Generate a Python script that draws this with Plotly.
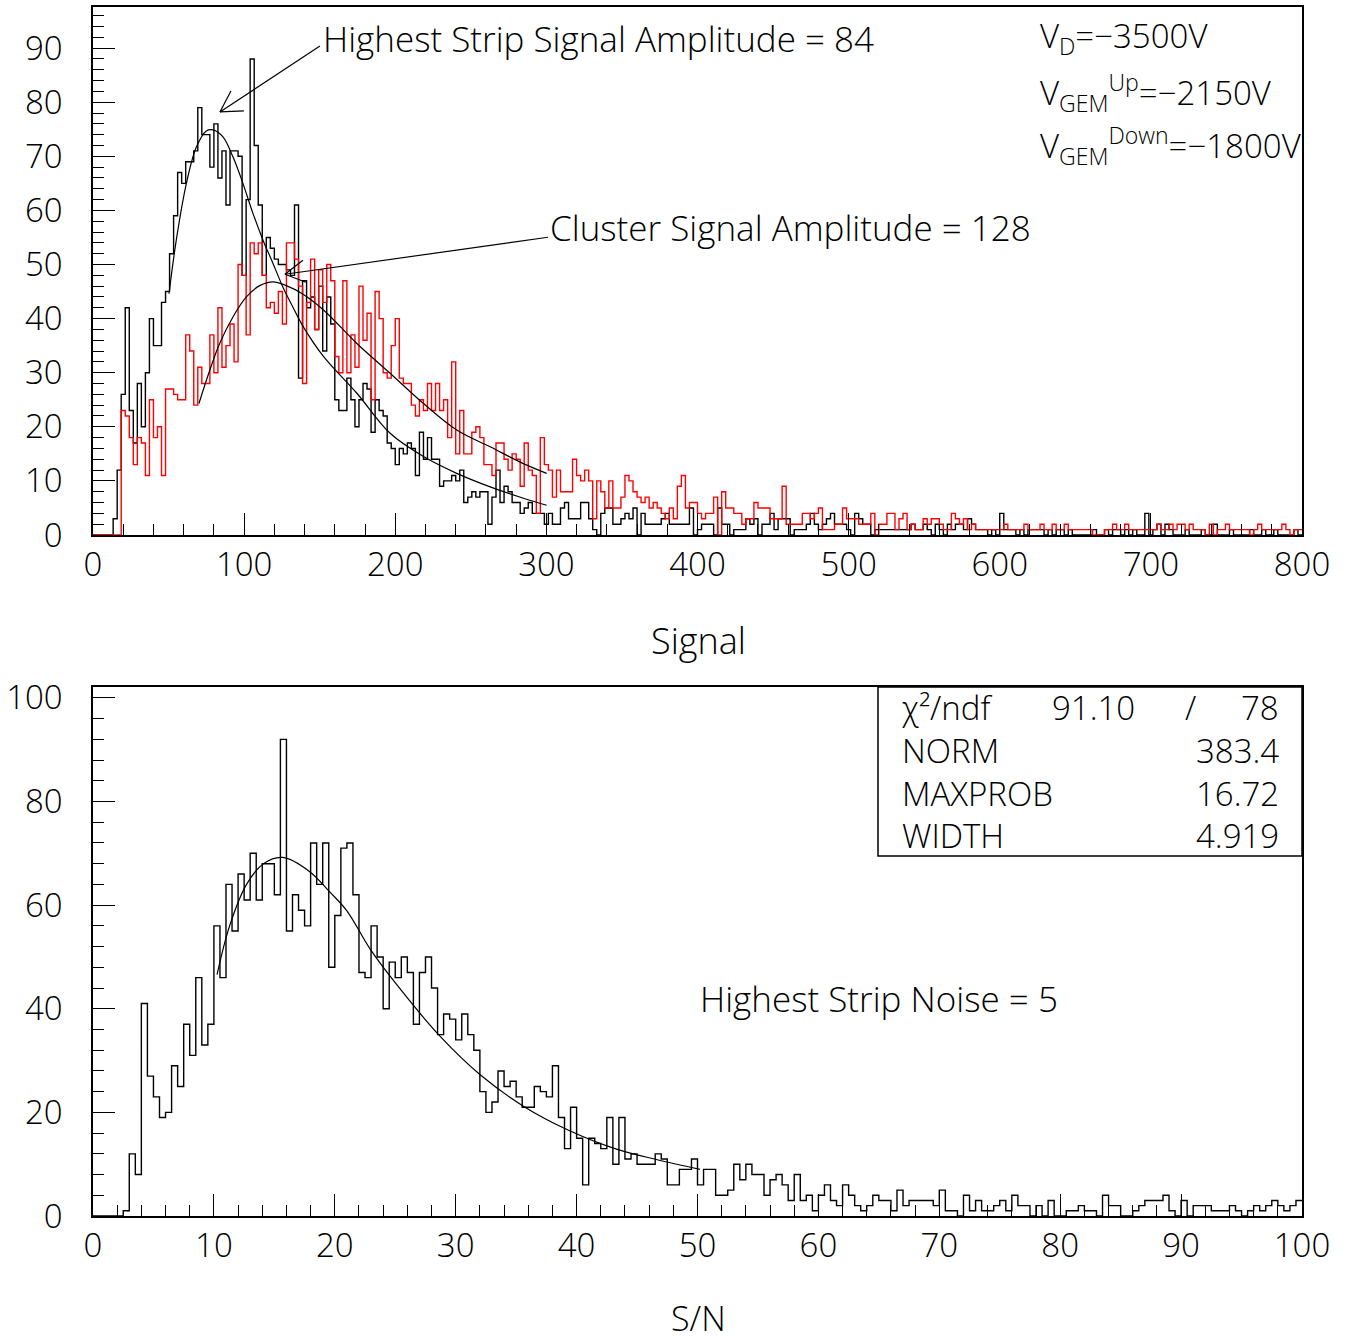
import numpy as np
import plotly.graph_objects as go

W, H = 1345, 1343
FONT = "Open Sans, DejaVu Sans, sans-serif"
WEIGHT = 300

# ---------------- data ----------------
signal_bin_width = 8.0 / 3.0   # 300 bins on 0..800
sn_bin_width = 0.5             # 200 bins on 0..100

highest_strip = [
    0, 0, 0, 0, 0, 3, 12, 26, 42, 23,
    17, 28, 20, 30, 40, 35, 35, 43, 45, 52,
    59, 67, 65, 69, 69, 71, 79, 74, 74, 68,
    76, 66, 71, 61, 71, 71, 70, 48, 62, 88,
    72, 61, 48, 55, 53, 51, 50, 50, 49, 48,
    61, 29, 47, 42, 44, 38, 46, 34, 44, 39,
    25, 23, 23, 29, 25, 20, 25, 28, 27, 19,
    25, 23, 22, 17, 16, 13, 16, 15, 17, 16,
    11, 19, 14, 18, 14, 14, 9, 10, 10, 11,
    10, 12, 6, 7, 8, 7, 8, 8, 2, 7,
    12, 6, 9, 8, 6, 6, 4, 5, 6, 4,
    4, 4, 2, 4, 2, 2, 5, 6, 3, 3,
    3, 6, 6, 3, 1, 0, 4, 5, 5, 2,
    2, 3, 4, 3, 5, 0, 4, 2, 2, 2,
    2, 3, 4, 2, 2, 2, 2, 2, 5, 0,
    1, 2, 2, 2, 0, 5, 2, 2, 0, 1,
    1, 1, 3, 2, 3, 0, 2, 2, 4, 1,
    3, 3, 3, 0, 1, 1, 1, 2, 4, 2,
    1, 2, 3, 4, 2, 2, 2, 1, 0, 4,
    3, 2, 2, 0, 1, 1, 1, 1, 1, 1,
    1, 1, 1, 2, 1, 1, 2, 1, 0, 2,
    1, 0, 2, 1, 2, 2, 1, 3, 2, 1,
    1, 1, 0, 1, 0, 4, 1, 1, 1, 0,
    1, 0, 1, 1, 1, 1, 0, 1, 0, 1,
    1, 0, 1, 0, 0, 0, 0, 0, 1, 0,
    0, 1, 0, 1, 1, 0, 1, 0, 1, 0,
    0, 4, 0, 1, 2, 0, 2, 1, 0, 0,
    0, 1, 0, 0, 0, 1, 0, 0, 2, 0,
    0, 0, 1, 0, 0, 0, 0, 1, 0, 0,
    1, 0, 0, 1, 0, 0, 0, 0, 1, 0,
]

cluster = [
    0, 0, 0, 0, 0, 0, 0, 23, 22, 18,
    13, 18, 17, 11, 25, 18, 20, 11, 27, 27,
    26, 25, 25, 37, 34, 24, 31, 28, 28, 37,
    30, 42, 31, 35, 39, 32, 50, 48, 37, 54,
    52, 54, 48, 42, 43, 41, 45, 39, 54, 54,
    51, 46, 28, 43, 51, 38, 49, 43, 50, 47,
    33, 30, 47, 30, 37, 31, 46, 36, 41, 25,
    45, 40, 30, 29, 35, 40, 29, 28, 28, 24,
    22, 25, 23, 28, 23, 28, 23, 25, 18, 32,
    15, 23, 15, 15, 19, 20, 18, 13, 13, 11,
    17, 17, 14, 12, 15, 14, 9, 17, 12, 11,
    4, 18, 13, 12, 7, 12, 8, 8, 8, 14,
    11, 10, 12, 10, 3, 10, 8, 5, 10, 5,
    5, 7, 11, 10, 8, 7, 6, 7, 5, 6,
    5, 4, 3, 5, 3, 9, 11, 5, 6, 6,
    4, 3, 4, 4, 7, 0, 8, 5, 5, 4,
    4, 2, 3, 3, 6, 5, 5, 5, 3, 3,
    3, 9, 2, 2, 2, 2, 4, 4, 3, 4,
    5, 1, 1, 1, 2, 2, 5, 3, 3, 3,
    2, 2, 2, 4, 0, 2, 2, 4, 4, 1,
    3, 4, 1, 2, 1, 1, 3, 2, 3, 3,
    2, 1, 1, 4, 3, 2, 3, 1, 2, 1,
    1, 1, 1, 1, 1, 1, 2, 1, 1, 1,
    1, 2, 1, 1, 1, 2, 1, 1, 2, 1,
    1, 2, 1, 1, 1, 1, 1, 1, 0, 0,
    0, 1, 1, 2, 1, 1, 2, 1, 1, 1,
    1, 1, 1, 1, 2, 1, 1, 2, 1, 2,
    2, 1, 2, 1, 1, 1, 0, 2, 0, 1,
    1, 2, 1, 1, 1, 1, 1, 0, 1, 2,
    1, 1, 1, 1, 1, 2, 1, 0, 1, 1,
]

sn_counts = [
    0, 0, 0, 0, 0, 1, 12, 8, 41, 27,
    23, 19, 20, 29, 25, 37, 31, 46, 33, 37,
    56, 46, 64, 55, 66, 61, 70, 61, 68, 68,
    62, 92, 55, 62, 59, 56, 72, 64, 72, 48,
    58, 71, 72, 62, 47, 46, 56, 50, 40, 49,
    46, 50, 47, 37, 47, 50, 44, 35, 39, 38,
    34, 39, 35, 32, 24, 20, 22, 28, 25, 26,
    23, 21, 21, 25, 24, 23, 29, 19, 13, 21,
    15, 6, 15, 14, 13, 19, 10, 19, 11, 12,
    10, 10, 10, 12, 11, 6, 6, 9, 9, 11,
    6, 9, 9, 4, 4, 5, 10, 7, 10, 8,
    8, 4, 7, 8, 6, 3, 8, 3, 4, 1,
    4, 6, 3, 2, 6, 4, 2, 1, 2, 4,
    3, 3, 1, 5, 2, 3, 3, 3, 3, 2,
    5, 1, 1, 0, 4, 1, 3, 1, 1, 2,
    3, 1, 4, 2, 2, 0, 2, 0, 3, 0,
    0, 1, 1, 2, 1, 1, 0, 4, 2, 2,
    0, 0, 1, 2, 3, 3, 3, 4, 1, 0,
    3, 0, 2, 2, 2, 1, 1, 1, 2, 1,
    0, 1, 2, 1, 2, 3, 2, 1, 2, 3,
]

# fit curves
fit_hs_x = [50.3, 55.1, 61.8, 68.4, 75.0, 79.4, 86.0, 92.6, 99.2, 105.9, 112.5,
            119.1, 125.7, 132.3, 138.5, 152.5, 174.6, 196.6, 218.7, 240.7, 262.8, 284.8, 300.2]
fit_hs_y = [44.6, 54.5, 65.0, 71.7, 74.7, 74.9, 73.6, 69.9, 65.0, 59.4, 54.5,
            50.2, 45.8, 42.1, 38.8, 33.0, 26.2, 18.8, 14.5, 11.4, 8.9, 6.8, 5.5]
fit_cl_x = [70.1, 77.2, 83.8, 92.6, 101.5, 110.3, 119.1, 127.9, 138.5, 152.5,
            174.6, 196.6, 218.7, 240.7, 262.8, 284.8, 300.2]
fit_cl_y = [24.3, 30.4, 35.4, 40.3, 44.0, 46.1, 46.8, 46.1, 44.6, 41.6,
            35.4, 29.9, 24.3, 19.4, 16.3, 13.2, 11.4]
fit_sn_x = [10.26, 11.3, 12.7, 14.1, 15.7, 17.9, 19.6, 21.0, 22.9, 24.8,
            28.7, 32.0, 35.6, 39.2, 43.3, 46.6, 50.2]
fit_sn_y = [46.6, 56.0, 64.0, 68.0, 69.2, 66.5, 62.5, 58.9, 51.6, 45.6,
            34.7, 27.3, 21.2, 16.7, 12.9, 10.9, 9.0]

stats_labels = ["NORM", "MAXPROB", "WIDTH"]
stats_values = ["383.4", "16.72", "4.919"]


def step_xy(counts, bw):
    edges = np.arange(len(counts) + 1) * bw
    return edges, list(counts) + [counts[-1]]


def px(x):
    return x / W


def py(y):
    return 1 - y / H


fig = go.Figure()

x1, y1 = step_xy(highest_strip, signal_bin_width)
x2, y2 = step_xy(cluster, signal_bin_width)
x3, y3 = step_xy(sn_counts, sn_bin_width)

fig.add_trace(go.Scatter(x=x1, y=y1, mode="lines", line=dict(shape="hv", color="black", width=1.4),
                         xaxis="x", yaxis="y", showlegend=False, hoverinfo="skip"))
fig.add_trace(go.Scatter(x=x2, y=y2, mode="lines", line=dict(shape="hv", color="#ff0000", width=1.4),
                         xaxis="x", yaxis="y", showlegend=False, hoverinfo="skip"))
fig.add_trace(go.Scatter(x=fit_hs_x, y=fit_hs_y, mode="lines",
                         line=dict(shape="spline", color="black", width=1.2),
                         xaxis="x", yaxis="y", showlegend=False, hoverinfo="skip"))
fig.add_trace(go.Scatter(x=fit_cl_x, y=fit_cl_y, mode="lines",
                         line=dict(shape="spline", color="black", width=1.2),
                         xaxis="x", yaxis="y", showlegend=False, hoverinfo="skip"))
fig.add_trace(go.Scatter(x=x3, y=y3, mode="lines", line=dict(shape="hv", color="black", width=1.4),
                         xaxis="x2", yaxis="y2", showlegend=False, hoverinfo="skip"))
fig.add_trace(go.Scatter(x=fit_sn_x, y=fit_sn_y, mode="lines",
                         line=dict(shape="spline", color="black", width=1.2),
                         xaxis="x2", yaxis="y2", showlegend=False, hoverinfo="skip"))

tickfont = dict(family=FONT, size=33, color="black", weight=WEIGHT)
common_axis = dict(showline=True, linecolor="black", linewidth=1.5, mirror=True,
                   showgrid=False, zeroline=False, ticks="inside", tickcolor="black",
                   tickwidth=1.2, tickfont=tickfont, automargin=False)
minor_style = dict(ticklen=11, ticks="inside", tickcolor="black", tickwidth=1.2)

xdom = [px(93), px(1302)]
fig.update_layout(
    template="none",
    width=W, height=H,
    margin=dict(l=0, r=0, t=0, b=0, pad=0),
    paper_bgcolor="white", plot_bgcolor="white",
    font=dict(family=FONT, color="black", weight=WEIGHT),
    xaxis=dict(domain=xdom, range=[0, 800], anchor="y", tick0=0, dtick=100, ticklen=22,
               minor=dict(dtick=20, **minor_style), ticklabelstandoff=0, **common_axis),
    yaxis=dict(domain=[py(535), py(7)], range=[0, 97.6], anchor="x", tick0=0, dtick=10, ticklen=22,
               minor=dict(dtick=2, **minor_style), ticklabelstandoff=22, **common_axis),
    xaxis2=dict(domain=xdom, range=[0, 100], anchor="y2", tick0=0, dtick=10, ticklen=22,
                minor=dict(dtick=2, **minor_style), ticklabelstandoff=0, **common_axis),
    yaxis2=dict(domain=[py(1216), py(687)], range=[0, 102.1], anchor="x2", tick0=0, dtick=20, ticklen=22,
                minor=dict(dtick=4, **minor_style), ticklabelstandoff=22, **common_axis),
)

annfont = dict(family=FONT, size=35, color="black", weight=WEIGHT)
vfont = dict(family=FONT, size=33, color="black", weight=WEIGHT)
boxfont = dict(family=FONT, size=33, color="black", weight=WEIGHT)
ann = []


def seg(xd, yd, dx, dy):
    # straight line anchored at data point (xd, yd), offset (dx, dy) in pixels (dy up)
    return dict(type="line", xref="x", yref="y", xsizemode="pixel", ysizemode="pixel",
                xanchor=xd, yanchor=yd, x0=0, y0=0, x1=dx, y1=dy,
                line=dict(color="black", width=1.2), layer="above")


# arrow 1: shaft + open head
fig.add_shape(seg(84.0, 78.2, 100, 66))
fig.add_shape(seg(84.0, 78.2, 11, 21))
fig.add_shape(seg(84.0, 78.2, 24, 1))
# arrow 2
fig.add_shape(seg(127.0, 48.2, 263, 37))
fig.add_shape(seg(127.0, 48.2, 18, 14))
fig.add_shape(seg(127.0, 48.2, 21, -8))

ann.append(dict(x=151.0, y=91.8, xref="x", yref="y", text="Highest Strip Signal Amplitude = 84",
                showarrow=False, xanchor="left", yanchor="middle", font=annfont))
ann.append(dict(x=301.0, y=56.9, xref="x", yref="y", text="Cluster Signal Amplitude = 128",
                showarrow=False, xanchor="left", yanchor="middle", font=annfont))
# voltages
for txt, yy in [("V<sub>D</sub>=−3500V", 38), ("V<sub>GEM</sub><sup>Up</sup>=−2150V", 92),
                ("V<sub>GEM</sub><sup>Down</sup>=−1800V", 145)]:
    ann.append(dict(x=px(1038), y=py(yy), xref="paper", yref="paper", text=txt, showarrow=False,
                    xanchor="left", yanchor="middle", font=vfont))
# axis titles
ann.append(dict(x=px(698), y=py(640), xref="paper", yref="paper", text="Signal", showarrow=False,
                xanchor="center", yanchor="middle", font=dict(family=FONT, size=36, color="black", weight=WEIGHT)))
ann.append(dict(x=px(698), y=py(1318), xref="paper", yref="paper", text="S/N", showarrow=False,
                xanchor="center", yanchor="middle", font=dict(family=FONT, size=34, color="black", weight=WEIGHT)))
# bottom label
ann.append(dict(x=px(698), y=py(998), xref="paper", yref="paper", text="Highest Strip Noise = 5",
                showarrow=False, xanchor="left", yanchor="middle", font=annfont))
# stats box text
ann.append(dict(x=px(900), y=py(708), xref="paper", yref="paper", text="χ²/ndf",
                showarrow=False, xanchor="left", yanchor="middle", font=boxfont))
ann.append(dict(x=px(1093), y=py(708), xref="paper", yref="paper", text="91.10",
                showarrow=False, xanchor="center", yanchor="middle", font=boxfont))
ann.append(dict(x=px(1190), y=py(708), xref="paper", yref="paper", text="/",
                showarrow=False, xanchor="center", yanchor="middle", font=boxfont))
ann.append(dict(x=px(1281), y=py(708), xref="paper", yref="paper", text="78",
                showarrow=False, xanchor="right", yanchor="middle", font=boxfont))
for lab, val, yy in zip(stats_labels, stats_values, [750, 793, 835]):
    ann.append(dict(x=px(900), y=py(yy), xref="paper", yref="paper", text=lab,
                    showarrow=False, xanchor="left", yanchor="middle", font=boxfont))
    ann.append(dict(x=px(1281), y=py(yy), xref="paper", yref="paper", text=val,
                    showarrow=False, xanchor="right", yanchor="middle", font=boxfont))

fig.update_layout(annotations=ann)
fig.add_shape(type="rect", xref="paper", yref="paper", x0=px(878), x1=px(1302), y0=py(856), y1=py(687),
              line=dict(color="black", width=1.5), fillcolor="white", layer="above")

fig.write_html("out.html", post_script="document.body.style.margin='0';")
